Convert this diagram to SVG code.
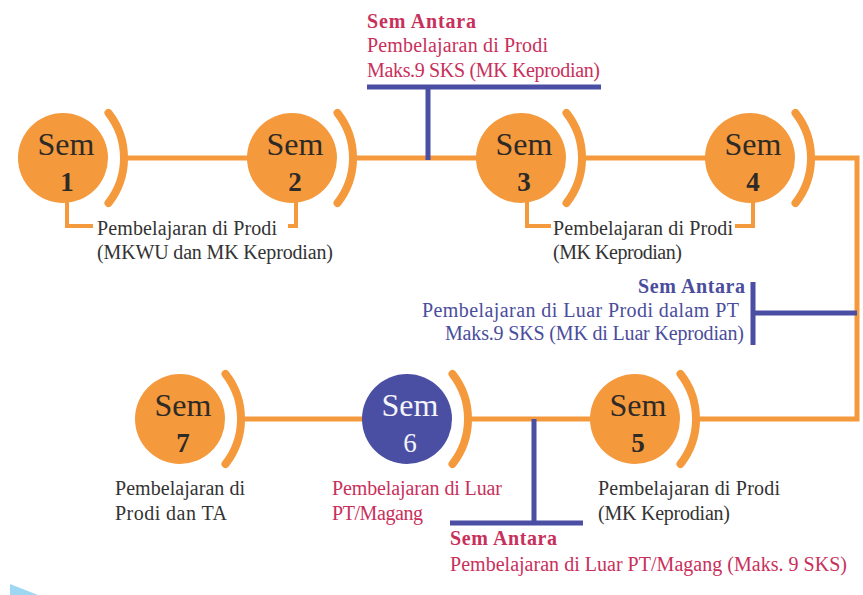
<svg xmlns="http://www.w3.org/2000/svg" width="863" height="595" viewBox="0 0 863 595">
<style>
.bg{fill:#ffffff}
.con{fill:none;stroke:#f5993d;stroke-width:5}
.brk{fill:none;stroke:#f5993d;stroke-width:4}
.arc{fill:none;stroke:#f5993d;stroke-width:8;stroke-linecap:round}
.blue{fill:none;stroke:#4a4fa3;stroke-width:5}
.c{fill:#f5993d}
.c6{fill:#4a4fa3}
text{font-family:"Liberation Serif","Times New Roman",serif}
.sem{font-size:32px;text-anchor:middle;fill:#2e2a26}
.num{font-size:27px;font-weight:bold;text-anchor:middle;fill:#2e2a26}
.w{fill:#f4f4fa}
.lbl{font-size:20px;fill:#333333}
.red{font-size:20px;fill:#c8305c}
.ind{font-size:20px;fill:#4a4d9c}
.b{font-weight:bold}
</style>
<rect class="bg" x="0" y="0" width="863" height="595"/>
<polygon points="10,584 38,595 10,595" fill="#9fd6f2"/>
<g id="connectors">
  <path class="con" d="M124,158 H292"/>
  <path class="con" d="M353,158 H521"/>
  <path class="con" d="M582,158 H750"/>
  <path class="con" d="M811,158 H857 V419 H696"/>
  <path class="con" d="M635,419 H468"/>
  <path class="con" d="M407,419 H241"/>
  <path class="brk" d="M67,195 V226 H93"/>
  <path class="brk" d="M296,195 V226 H288"/>
  <path class="brk" d="M527,195 V226 H551"/>
  <path class="brk" d="M753,195 V226 H735"/>
  <path class="blue" d="M367,87 H601 M428,87 V160"/>
  <path class="blue" d="M753,282 V345 M753,313 H857"/>
  <path class="blue" d="M534,419 V523 M450,523 H583"/>
</g>
<g id="sem1">
  <circle class="c" cx="63" cy="158" r="45"/>
  <path class="arc" d="M108.5,113 A73 73 0 0 1 108.5,203"/>
  <text class="sem" x="66" y="155">Sem</text>
  <text class="num" x="67" y="191">1</text>
</g>
<g id="sem2">
  <circle class="c" cx="292" cy="158" r="45"/>
  <path class="arc" d="M337.5,113 A73 73 0 0 1 337.5,203"/>
  <text class="sem" x="295" y="155">Sem</text>
  <text class="num" x="295" y="191">2</text>
</g>
<g id="sem3">
  <circle class="c" cx="521" cy="158" r="45"/>
  <path class="arc" d="M566.5,113 A73 73 0 0 1 566.5,203"/>
  <text class="sem" x="524" y="155">Sem</text>
  <text class="num" x="524" y="191">3</text>
</g>
<g id="sem4">
  <circle class="c" cx="750" cy="158" r="45"/>
  <path class="arc" d="M795.5,113 A73 73 0 0 1 795.5,203"/>
  <text class="sem" x="753" y="155">Sem</text>
  <text class="num" x="753" y="191">4</text>
</g>
<g id="sem5">
  <circle class="c" cx="635" cy="419" r="45"/>
  <path class="arc" d="M680.5,374 A73 73 0 0 1 680.5,464"/>
  <text class="sem" x="638" y="416">Sem</text>
  <text class="num" x="638" y="452">5</text>
</g>
<g id="sem6">
  <circle class="c6" cx="407" cy="419" r="45"/>
  <path class="arc" d="M452.5,374 A73 73 0 0 1 452.5,464"/>
  <text class="sem w" x="410" y="416">Sem</text>
  <text class="num w" x="410" y="452" style="font-weight:normal">6</text>
</g>
<g id="sem7">
  <circle class="c" cx="180" cy="419" r="45"/>
  <path class="arc" d="M225.5,374 A73 73 0 0 1 225.5,464"/>
  <text class="sem" x="183" y="416">Sem</text>
  <text class="num" x="183" y="452">7</text>
</g>
<g id="label-top">
  <text class="red b" x="367" y="28" textLength="109">Sem Antara</text>
  <text class="red" x="367" y="52" textLength="181">Pembelajaran di Prodi</text>
  <text class="red" x="367" y="77" textLength="233">Maks.9 SKS (MK Keprodian)</text>
</g>
<g id="label-12">
  <text class="lbl" x="97" y="235" textLength="180">Pembelajaran di Prodi</text>
  <text class="lbl" x="97" y="259" textLength="236">(MKWU dan MK Keprodian)</text>
</g>
<g id="label-34">
  <text class="lbl" x="553" y="235" textLength="180">Pembelajaran di Prodi</text>
  <text class="lbl" x="553" y="259" textLength="129">(MK Keprodian)</text>
</g>
<g id="label-right">
  <text class="ind b" x="638" y="293" textLength="107">Sem Antara</text>
  <text class="ind" x="422" y="317" textLength="317">Pembelajaran di Luar Prodi dalam PT</text>
  <text class="ind" x="445" y="340" textLength="299">Maks.9 SKS (MK di Luar Keprodian)</text>
</g>
<g id="label-7">
  <text class="lbl" x="115" y="495" textLength="130">Pembelajaran di</text>
  <text class="lbl" x="115" y="520" textLength="112">Prodi dan TA</text>
</g>
<g id="label-6">
  <text class="red" x="332" y="495" textLength="170">Pembelajaran di Luar</text>
  <text class="red" x="332" y="520" textLength="91">PT/Magang</text>
</g>
<g id="label-5">
  <text class="lbl" x="598" y="495" textLength="182">Pembelajaran di Prodi</text>
  <text class="lbl" x="598" y="520" textLength="132">(MK Keprodian)</text>
</g>
<g id="label-bottom">
  <text class="red b" x="450" y="545" textLength="107">Sem Antara</text>
  <text class="red" x="450" y="571" textLength="397">Pembelajaran di Luar PT/Magang (Maks. 9 SKS)</text>
</g>
</svg>
